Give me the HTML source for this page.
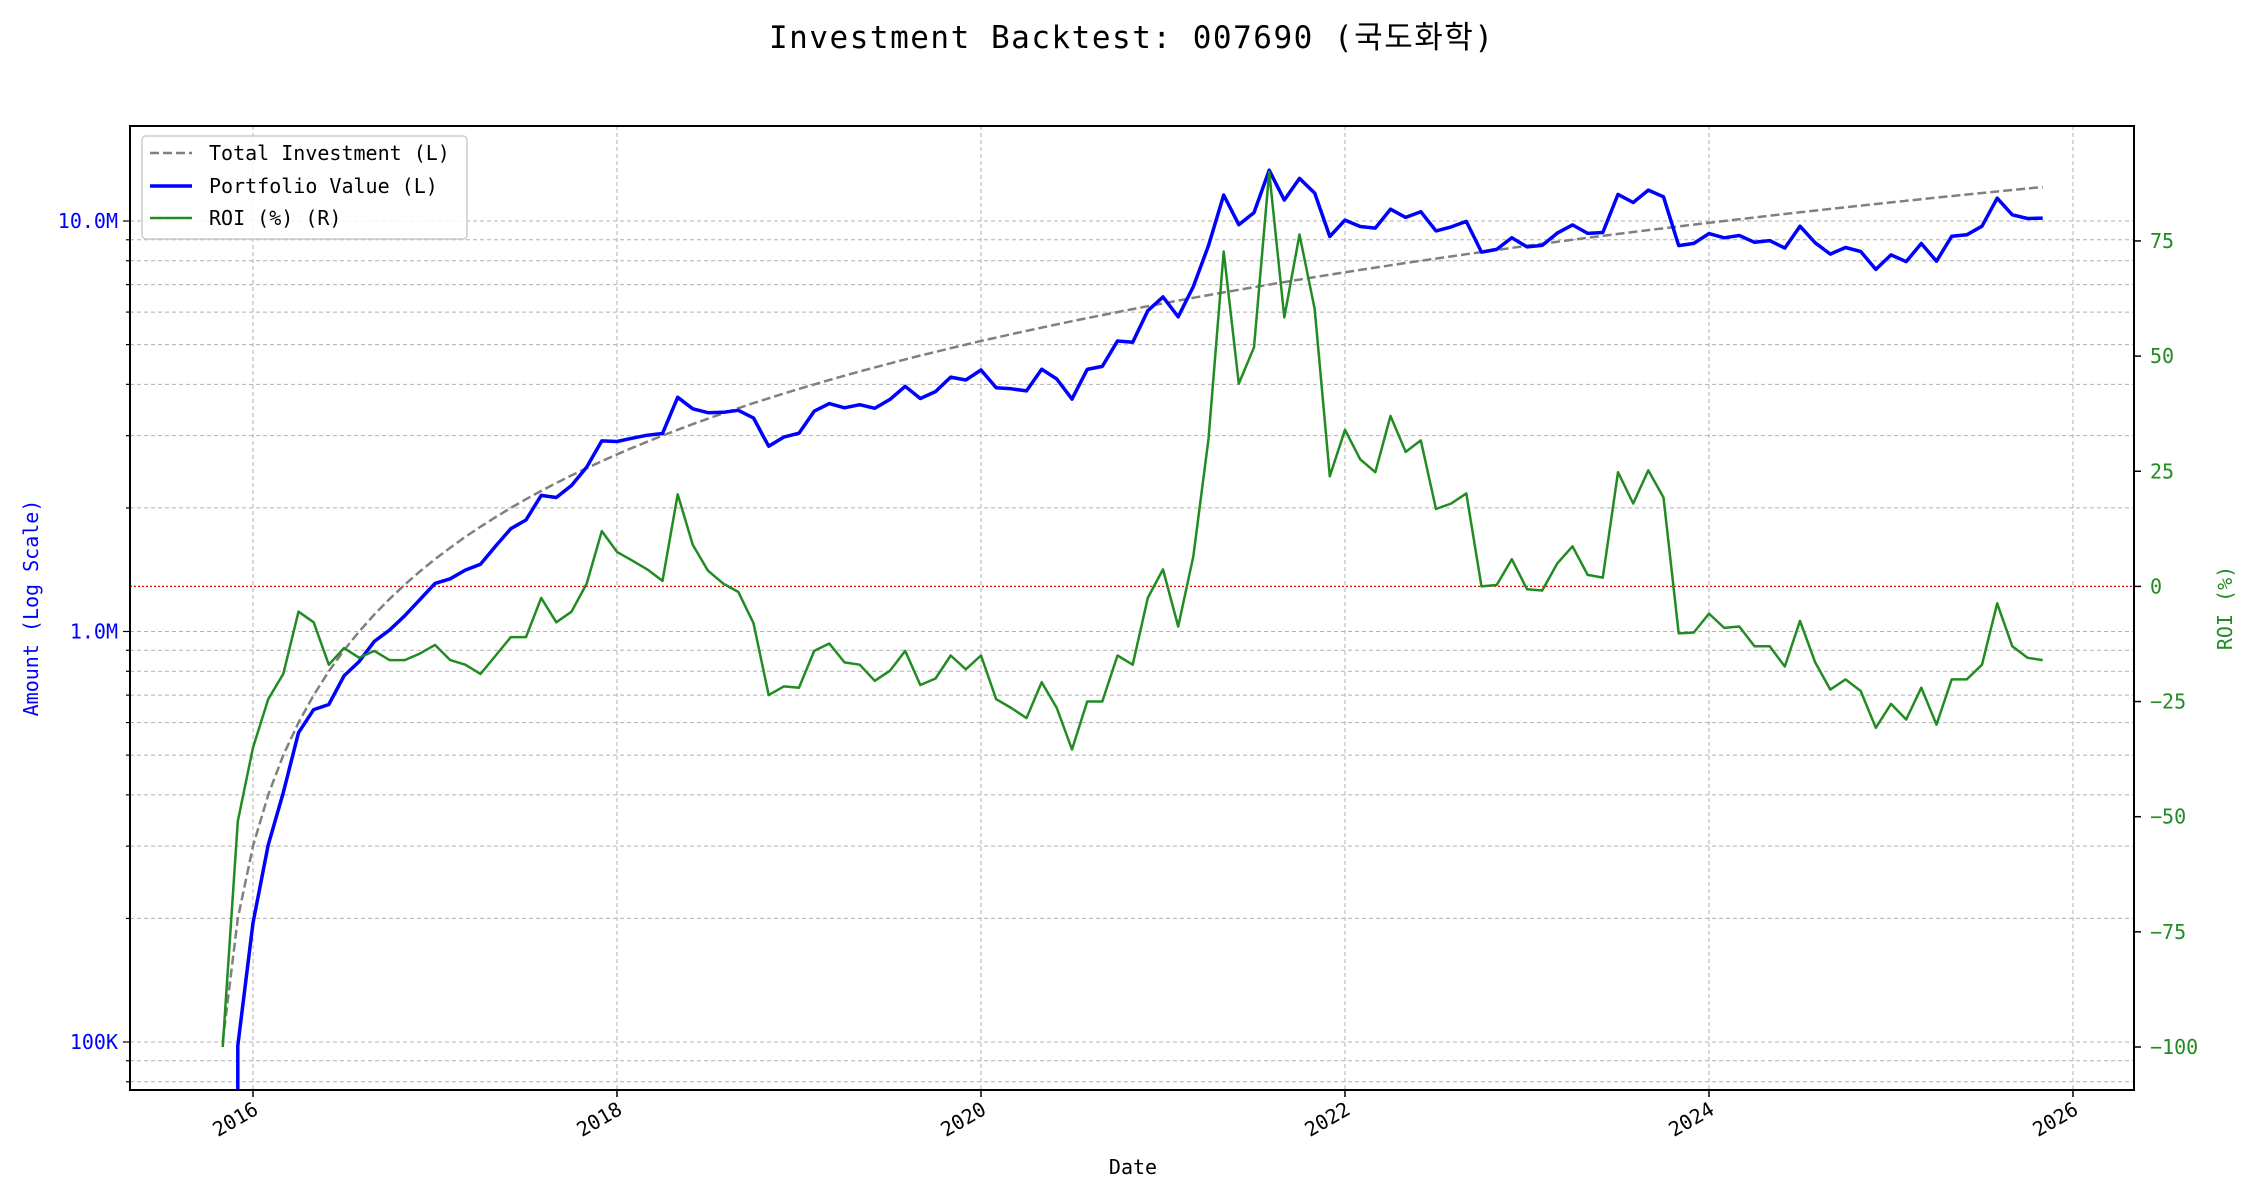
<!DOCTYPE html>
<html><head><meta charset="utf-8">
<style>
html,body{margin:0;padding:0;background:#fff;}
svg{display:block;font-family:"DejaVu Sans Mono","Liberation Mono","Noto Sans CJK KR",monospace;}
</style></head>
<body>
<svg id="c" width="2250" height="1200" xmlns="http://www.w3.org/2000/svg">
<rect width="2250" height="1200" fill="#fff"/>
<text x="1131" y="48" font-size="31" text-anchor="middle" textLength="724" font-family="DejaVu Sans Mono, Noto Sans CJK KR, monospace">Investment Backtest: 007690 (국도화학)</text>
<g id="grid"></g>
<g id="series"></g>
<rect x="130" y="126" width="2004" height="964" fill="none" stroke="#000" stroke-width="2"/>
<g id="ticks"></g>
<text transform="translate(38,608) rotate(-90)" font-size="20" fill="#0000ff" text-anchor="middle">Amount (Log Scale)</text>
<text transform="translate(2232,608) rotate(-90)" font-size="20" fill="#228b22" text-anchor="middle">ROI (%)</text>
<text x="1133" y="1174" font-size="20" text-anchor="middle">Date</text>
<g>
<rect x="142" y="136" width="325" height="103" rx="4" fill="#fff" fill-opacity="0.85" stroke="#ccc" stroke-width="1.5"/>
<line x1="150" y1="153" x2="192" y2="153" stroke="#808080" stroke-width="2.5" stroke-dasharray="9,4"/>
<text x="209" y="160" font-size="20">Total Investment (L)</text>
<line x1="150" y1="186" x2="192" y2="186" stroke="#0000ff" stroke-width="3.5"/>
<text x="209" y="193" font-size="20">Portfolio Value (L)</text>
<line x1="150" y1="218" x2="192" y2="218" stroke="#228b22" stroke-width="2.5"/>
<text x="209" y="225" font-size="20">ROI (%) (R)</text>
</g>
</svg>
<script>
(function(){
var NS="http://www.w3.org/2000/svg";
function el(p,t,a,txt){var e=document.createElementNS(NS,t);for(var k in a)e.setAttribute(k,a[k]);if(txt!==undefined)e.textContent=txt;p.appendChild(e);return e;}
var L=130,R=2134,T=126,B=1090;
function yl(v){return 1042-410.5*Math.log10(v/1e5);}
function yr(r){return 586.4-r*4.606;}
function xd(t){return 253+(t-2016)*182;}
var grid=document.getElementById('grid'),ticks=document.getElementById('ticks'),ser=document.getElementById('series');
for(var y=2016;y<=2026;y+=2){var x=xd(y);
 el(grid,'line',{x1:x,y1:T,x2:x,y2:B,stroke:'#b0b0b0','stroke-width':1,'stroke-dasharray':'4,3'});
 el(ticks,'line',{x1:x,y1:B,x2:x,y2:B+7,stroke:'#000','stroke-width':1.5});
 el(ticks,'text',{transform:'translate('+(x-1)+','+(B+10)+') rotate(-30)','font-size':20,'text-anchor':'end','dominant-baseline':'hanging'},String(y));
}
for(var d=4;d<=7;d++){for(var m=1;m<=9;m++){var v=m*Math.pow(10,d);var yy=yl(v);if(yy<T||yy>B)continue;
 el(grid,'line',{x1:L,y1:yy,x2:R,y2:yy,stroke:'#b0b0b0','stroke-width':1,'stroke-dasharray':'4,3'});
 el(ticks,'line',{x1:L-(m==1?7:4),y1:yy,x2:L,y2:yy,stroke:'#000','stroke-width':1.2});
 if(m==1){var lab=v>=1e6?(v/1e6).toFixed(1)+'M':(v/1e3)+'K';
  el(ticks,'text',{x:L-12,y:yy+7,'font-size':20,fill:'#0000ff','text-anchor':'end'},lab);}
}}
for(var r=-100;r<=75;r+=25){var yy=yr(r);
 el(ticks,'line',{x1:R,y1:yy,x2:R+7,y2:yy,stroke:'#000','stroke-width':1.5});
 el(ticks,'text',{x:R+16,y:yy+7,'font-size':20,fill:'#228b22'},(r<0?'\u2212':'')+Math.abs(r));
}
var roi=[-100,-51,-35,-24.5,-19,-5.5,-7.8,-17,-13.4,-15.5,-14,-16,-16,-14.6,-12.7,-16,-17,-19,-15,-11,-11,-2.5,-7.8,-5.5,0.6,12,7.5,5.6,3.7,1.2,20,9,3.4,0.6,-1.2,-8,-23.6,-21.7,-22,-14,-12.4,-16.5,-17,-20.5,-18.3,-14,-21.4,-20,-15,-18,-15,-24.5,-26.4,-28.6,-20.8,-26.4,-35.4,-25,-25,-15,-17,-2.5,3.7,-8.7,6.5,32,72.7,44,51.9,90,58.4,76.4,60.2,23.9,34,27.6,24.8,37,29.2,31.7,16.8,18,20.2,0,0.3,5.9,-0.6,-0.9,5,8.7,2.5,1.9,24.8,18,25.2,19.3,-10.2,-10,-5.9,-9,-8.7,-13,-13,-17.4,-7.5,-16.5,-22.4,-20.2,-22.7,-30.7,-25.5,-28.9,-22,-30,-20.2,-20.2,-17,-3.7,-13,-15.5,-16];
var t0=2015+10/12;
var pi='',pp='',pr='';
for(var i=0;i<roi.length;i++){var x=xd(t0+i/12);var inv=1e5*(i+1);
 pi+=(i?'L':'M')+x.toFixed(1)+','+yl(inv).toFixed(1);
 pr+=(i?'L':'M')+x.toFixed(1)+','+yr(roi[i]).toFixed(1);
 if(i>=1){var pv=inv*(1+roi[i]/100);var yy=yl(pv);
  if(i==1)pp='M'+x.toFixed(1)+','+(B+5)+'L'+x.toFixed(1)+','+yy.toFixed(1);
  else pp+='L'+x.toFixed(1)+','+yy.toFixed(1);}
}
var cp=el(ser,'clipPath',{id:'cl'});el(cp,'rect',{x:L,y:T,width:R-L,height:B-T});
var g=el(ser,'g',{'clip-path':'url(#cl)'});
el(g,'line',{x1:L,y1:yr(0),x2:R,y2:yr(0),stroke:'#ff0000','stroke-width':1.2,'stroke-dasharray':'2,2'});
el(g,'path',{d:pi,fill:'none',stroke:'#808080','stroke-width':2.5,'stroke-dasharray':'9,4'});
el(g,'path',{d:pp,fill:'none',stroke:'#0000ff','stroke-width':3.5,'stroke-linejoin':'round'});
el(g,'path',{d:pr,fill:'none',stroke:'#228b22','stroke-width':2.5,'stroke-linejoin':'round'});
})();
</script>
</body></html>
